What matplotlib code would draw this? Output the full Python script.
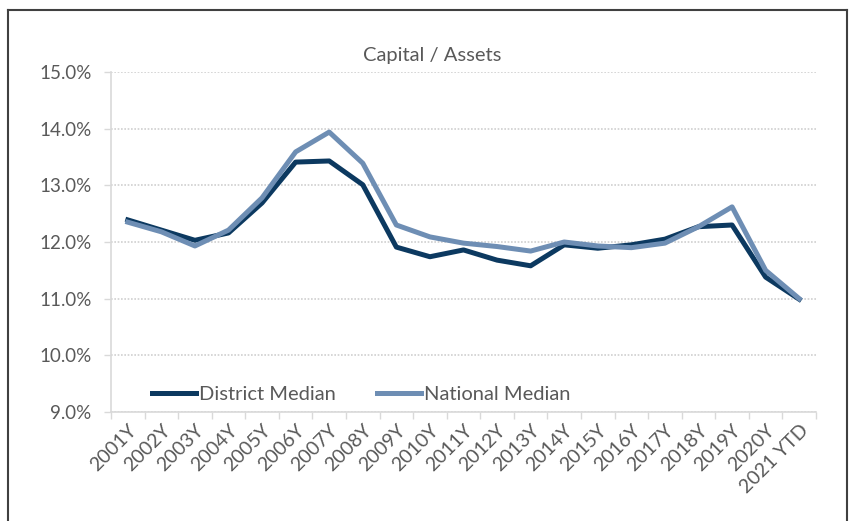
import matplotlib
matplotlib.use("Agg")
import matplotlib.pyplot as plt
from matplotlib.lines import Line2D
from matplotlib.ticker import FixedLocator, FuncFormatter

plt.rcParams['font.family'] = ['Lato', 'DejaVu Sans']

# values (percent)
years = ["2001Y", "2002Y", "2003Y", "2004Y", "2005Y", "2006Y", "2007Y", "2008Y",
         "2009Y", "2010Y", "2011Y", "2012Y", "2013Y", "2014Y", "2015Y", "2016Y",
         "2017Y", "2018Y", "2019Y", "2020Y", "2021 YTD"]
district = [12.39, 12.21, 12.03, 12.16, 12.69, 13.41, 13.43, 13.01, 11.91, 11.74, 11.86,
            11.68, 11.58, 11.95, 11.89, 11.95, 12.05, 12.27, 12.30, 11.38, 10.99]
national = [12.35, 12.18, 11.93, 12.21, 12.78, 13.59, 13.94, 13.39, 12.30, 12.09, 11.98,
            11.92, 11.84, 12.00, 11.93, 11.90, 11.98, 12.27, 12.62, 11.50, 11.00]
y_ticks = [9, 10, 11, 12, 13, 14, 15]

W, H = 851, 521
fig = plt.figure(figsize=(W / 100, H / 100), dpi=100)
ax = fig.add_axes([111 / W, 1 - 412 / H, (816 - 111) / W, (412 - 72) / H])

text_col = "#595959"
axis_col = "#d9d9d9"
x = list(range(len(years)))

ax.plot(x, district, color="#0c3960", lw=3.6, label="District Median", solid_joinstyle="round")
ax.plot(x, national, color="#6e8eb4", lw=3.6, label="National Median", solid_joinstyle="round")

ax.set_xlim(-0.5, len(years) - 0.5)
ax.set_ylim(9, 15)
ax.set_yticks(y_ticks)
ax.yaxis.set_major_formatter(FuncFormatter(lambda v, p: f"{v:.1f}%"))
ax.grid(axis="y", color="#d0d0d0", linestyle=(0, (1, 1)), lw=1.2)
ax.set_axisbelow(True)

ax.set_xticks(x)
ax.set_xticklabels(years, rotation=45, ha="right", rotation_mode="anchor")
ax.xaxis.set_minor_locator(FixedLocator([i - 0.5 for i in range(len(years) + 1)]))
ax.tick_params(axis="x", which="major", length=0, pad=7, labelsize=14, labelcolor=text_col)
ax.tick_params(axis="x", which="minor", length=5, color=axis_col, width=1)
ax.tick_params(axis="y", length=5, color=axis_col, width=1, labelsize=13.5,
               labelcolor=text_col, pad=9)

for s in ["top", "right"]:
    ax.spines[s].set_visible(False)
for s in ["left", "bottom"]:
    ax.spines[s].set_color(axis_col)
    ax.spines[s].set_linewidth(1.2)

fig.text(432 / W, 1 - 55 / H, "Capital / Assets", ha="center", va="center",
         fontsize=14.5, color=text_col)

leg = ax.legend(loc="lower left", bbox_to_anchor=(134 / W, 1 - 421 / H),
                bbox_transform=fig.transFigure, ncol=2, frameon=False,
                fontsize=14.5, handlelength=2.2, handletextpad=0.15, columnspacing=2.0)
for t in leg.get_texts():
    t.set_color(text_col)

# outer frame (no bottom edge)
frame = dict(color="#404040", lw=1.5, transform=fig.transFigure)
fig.add_artist(Line2D([8 / W, 8 / W], [0, 1 - 10 / H], **frame))
fig.add_artist(Line2D([8 / W, 847 / W], [1 - 10 / H, 1 - 10 / H], **frame))
fig.add_artist(Line2D([847 / W, 847 / W], [0, 1 - 10 / H], **frame))

fig.savefig("out.png", dpi=100)
